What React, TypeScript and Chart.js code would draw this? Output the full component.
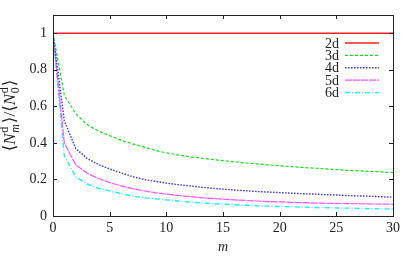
import React, { useEffect, useRef } from "react";
import { Chart, registerables } from "chart.js";

Chart.register(...registerables);

const mValues = [0, 1, 2, 3, 4, 5, 6, 7, 8, 9, 10, 11, 12, 13, 14, 15, 16, 17, 18, 19, 20, 21, 22, 23, 24, 25, 26, 27, 28, 29, 30];
const seriesLabels = ["2d", "3d", "4d", "5d", "6d"];
const values2d = [1, 1, 1, 1, 1, 1, 1, 1, 1, 1, 1, 1, 1, 1, 1, 1, 1, 1, 1, 1, 1, 1, 1, 1, 1, 1, 1, 1, 1, 1, 1];
const values3d = [1, 0.66, 0.56, 0.5, 0.465, 0.44, 0.415, 0.395, 0.378, 0.36, 0.345, 0.335, 0.325, 0.317, 0.31, 0.303, 0.297, 0.29, 0.285, 0.28, 0.275, 0.27, 0.266, 0.262, 0.258, 0.254, 0.25, 0.247, 0.244, 0.241, 0.238];
const values4d = [1, 0.52, 0.37, 0.315, 0.282, 0.257, 0.236, 0.216, 0.2, 0.19, 0.18, 0.172, 0.165, 0.158, 0.152, 0.147, 0.142, 0.138, 0.134, 0.131, 0.128, 0.125, 0.122, 0.12, 0.117, 0.115, 0.112, 0.11, 0.108, 0.105, 0.103];
const values5d = [1, 0.4, 0.28, 0.235, 0.205, 0.183, 0.165, 0.15, 0.138, 0.128, 0.12, 0.113, 0.107, 0.101, 0.096, 0.092, 0.088, 0.085, 0.082, 0.079, 0.077, 0.075, 0.073, 0.071, 0.07, 0.069, 0.068, 0.067, 0.066, 0.065, 0.064];
const values6d = [1, 0.33, 0.215, 0.175, 0.152, 0.138, 0.122, 0.11, 0.1, 0.094, 0.088, 0.082, 0.077, 0.072, 0.068, 0.065, 0.062, 0.059, 0.056, 0.054, 0.052, 0.05, 0.049, 0.047, 0.046, 0.044, 0.043, 0.042, 0.04, 0.039, 0.038];
const xTicks = [0, 5, 10, 15, 20, 25, 30];
const yTicks = [0, 0.2, 0.4, 0.6, 0.8, 1];
const yTickLabels = ["0", "0.2", "0.4", "0.6", "0.8", "1"];
const xTitle = "m";

const allSeries = [values2d, values3d, values4d, values5d, values6d];
const colors = ["#ff2020", "#10e010", "#3030ff", "#ff50ff", "#20f0f0"];
const dashes: number[][] = [[], [3, 2], [1.5, 1.5], [7, 1], [5, 2, 1, 2]];
const widths = [1.6, 1.2, 1.4, 1.2, 1.4];

const SERIF = "'Liberation Serif', 'DejaVu Serif', serif";
const TEXT = "#222";

function drawYTitle(ctx: CanvasRenderingContext2D, cx: number, cy: number) {
  const big = "17px " + SERIF;
  const small = "12px " + SERIF;
  const smallIt = "italic 12px " + SERIF;
  const bigIt = "italic 17px " + SERIF;
  type Run = { t: string; f: string; dy: number };
  const parts: Run[][] = [
    [{ t: "\u27E8", f: big, dy: 0 }, { t: "N", f: bigIt, dy: 0 }],
    [{ t: "m", f: smallIt, dy: 4 }, { t: "d", f: small, dy: -7 }],
    [{ t: "\u27E9/\u27E8", f: big, dy: 0 }, { t: "N", f: bigIt, dy: 0 }],
    [{ t: "0", f: small, dy: 4 }, { t: "d", f: small, dy: -7 }],
    [{ t: "\u27E9", f: big, dy: 0 }],
  ];
  const groupWidths: number[] = [];
  parts.forEach((g, i) => {
    let w = 0;
    if (i % 2 === 1) {
      g.forEach((r) => { ctx.font = r.f; w = Math.max(w, ctx.measureText(r.t).width); });
      groupWidths.push(w + 1.5);
    } else {
      g.forEach((r) => { ctx.font = r.f; w += ctx.measureText(r.t).width; });
      groupWidths.push(w);
    }
  });
  const total = groupWidths.reduce((a, b) => a + b, 0);
  ctx.save();
  ctx.translate(cx, cy);
  ctx.rotate(-Math.PI / 2);
  ctx.fillStyle = TEXT;
  ctx.textBaseline = "alphabetic";
  ctx.textAlign = "left";
  let x = -total / 2;
  const base = 5;
  parts.forEach((g, i) => {
    if (i % 2 === 1) {
      g.forEach((r) => { ctx.font = r.f; ctx.fillText(r.t, x + 0.5, base + r.dy); });
    } else {
      let xx = x;
      g.forEach((r) => { ctx.font = r.f; ctx.fillText(r.t, xx, base + r.dy); xx += ctx.measureText(r.t).width; });
    }
    x += groupWidths[i];
  });
  ctx.restore();
}

const framePlugin = {
  id: "frame",
  afterDatasetsDraw(chart: any) {
    const { ctx, chartArea: a, scales } = chart;
    const xs = scales.x;
    const ys = scales.y;
    ctx.save();
    ctx.strokeStyle = TEXT;
    ctx.lineWidth = 1;
    ctx.setLineDash([]);
    ctx.strokeRect(Math.round(a.left) + 0.5, Math.round(a.top) + 0.5, Math.round(a.right - a.left), Math.round(a.bottom - a.top));
    const tl = 4;
    ctx.beginPath();
    xTicks.forEach((v) => {
      const px = Math.round(xs.getPixelForValue(v)) + 0.5;
      ctx.moveTo(px, a.bottom); ctx.lineTo(px, a.bottom - tl);
      ctx.moveTo(px, a.top); ctx.lineTo(px, a.top + tl);
    });
    yTicks.forEach((v) => {
      const py = Math.round(ys.getPixelForValue(v)) + 0.5;
      ctx.moveTo(a.left, py); ctx.lineTo(a.left + tl, py);
      ctx.moveTo(a.right, py); ctx.lineTo(a.right - tl, py);
    });
    ctx.stroke();

    // legend
    ctx.font = "14px " + SERIF;
    ctx.textAlign = "right";
    ctx.textBaseline = "middle";
    seriesLabels.forEach((label, i) => {
      const y = 43 + i * 12.4;
      ctx.fillStyle = TEXT;
      ctx.fillText(label, 339, y + 1);
      ctx.strokeStyle = colors[i];
      ctx.lineWidth = widths[i];
      ctx.setLineDash(dashes[i]);
      ctx.beginPath();
      ctx.moveTo(345, y);
      ctx.lineTo(379, y);
      ctx.stroke();
    });
    ctx.setLineDash([]);
    drawYTitle(ctx, 10, (a.top + a.bottom) / 2);
    ctx.restore();
  },
};

export default function App() {
  const ref = useRef<HTMLCanvasElement | null>(null);
  useEffect(() => {
    document.body.style.margin = "0";
    const canvas = ref.current!;
    const chart = new Chart(canvas, {
      type: "line",
      data: {
        datasets: seriesLabels.map((label, i) => ({
          label,
          data: mValues.map((m, j) => ({ x: m, y: allSeries[i][j] })),
          borderColor: colors[i],
          backgroundColor: colors[i],
          borderWidth: widths[i],
          borderDash: dashes[i],
          pointRadius: 0,
          tension: 0,
          fill: false,
        })),
      },
      options: {
        animation: false,
        responsive: false,
        maintainAspectRatio: false,
        layout: { padding: { top: 15, right: 23, left: 0, bottom: 0 } },
        plugins: { legend: { display: false }, tooltip: { enabled: false } },
        scales: {
          x: {
            type: "linear",
            min: 0,
            max: 30,
            grid: { display: false, drawTicks: false },
            border: { display: false },
            afterBuildTicks: (s: any) => { s.ticks = xTicks.map((v) => ({ value: v })); },
            afterFit: (s: any) => { s.height = 40; },
            ticks: { color: TEXT, font: { family: SERIF, size: 14 }, padding: 4, maxRotation: 0, callback: (v: any) => String(v) },
            title: { display: true, text: xTitle, color: TEXT, font: { family: SERIF, size: 14, style: "italic" }, padding: { top: 0, bottom: 0 } },
          },
          y: {
            type: "linear",
            min: 0,
            max: 1.1,
            grid: { display: false, drawTicks: false },
            border: { display: false },
            afterBuildTicks: (s: any) => { s.ticks = yTicks.map((v) => ({ value: v })); },
            afterFit: (s: any) => { s.width = 53; },
            ticks: {
              color: TEXT,
              font: { family: SERIF, size: 14 },
              padding: 6,
              callback: (v: any) => { const k = yTicks.indexOf(v); return k >= 0 ? yTickLabels[k] : ""; },
            },
          },
        },
      },
      plugins: [framePlugin],
    } as any);
    return () => chart.destroy();
  }, []);
  return <canvas ref={ref} width={416} height={256} style={{ display: "block", width: 416, height: 256 }} />;
}
